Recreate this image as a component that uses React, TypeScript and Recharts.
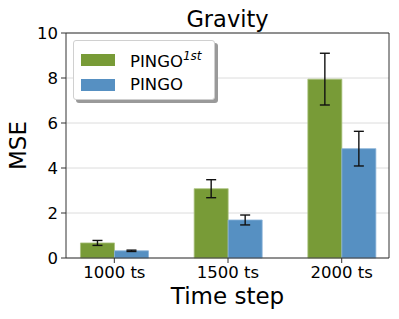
import {
  BarChart,
  Bar,
  XAxis,
  YAxis,
  CartesianGrid,
  ErrorBar,
  Legend,
  ReferenceLine,
} from "recharts";

const categories = ["1000 ts", "1500 ts", "2000 ts"];
const pingo1st = [0.67, 3.08, 7.95];
const pingo1stErr = [0.11, 0.4, 1.15];
const pingo = [0.32, 1.69, 4.86];
const pingoErr = [0.03, 0.22, 0.77];
const yTicks = [0, 2, 4, 6, 8, 10];

const GREEN = "#789b37";
const BLUE = "#5690c2";
const FONT = "'DejaVu Sans', sans-serif";

const data = categories.map((name, i) => ({
  x: i,
  name,
  first: pingo1st[i],
  firstErr: pingo1stErr[i],
  pingo: pingo[i],
  pingoErr: pingoErr[i],
}));

function LegendBox() {
  const row = { display: "flex", alignItems: "center", height: 25 } as const;
  const swatch = (c: string) => ({
    width: 34,
    height: 12,
    background: c,
    marginRight: 15,
  });
  return (
    <div
      style={{
        width: 142,
        height: 60,
        background: "#fff",
        border: "1px solid #d0d0d0",
        borderRadius: 3,
        boxShadow: "3px 3px 0 #9a9a9a",
        padding: "6px 0 0 7px",
        boxSizing: "border-box",
        fontFamily: FONT,
        fontSize: 16.5,
        color: "#000",
      }}
    >
      <div style={row}>
        <div style={swatch(GREEN)} />
        <span>
          PINGO
          <sup style={{ fontSize: 12, fontStyle: "italic", verticalAlign: 7 }}>1st</sup>
        </span>
      </div>
      <div style={row}>
        <div style={swatch(BLUE)} />
        <span>PINGO</span>
      </div>
    </div>
  );
}

export default function App() {
  return (
    <div style={{ margin: -8 }}>
      <BarChart
        width={399}
        height={319}
        data={data}
        margin={{ top: 33, right: 10, bottom: 0, left: 10 }}
        barGap={0}
        style={{ fontFamily: FONT }}
      >
        <CartesianGrid vertical={false} stroke="#dcdcdc" strokeWidth={1} />
        <XAxis
          dataKey="x"
          type="number"
          domain={[-0.425, 2.416]}
          ticks={[0, 1, 2]}
          tickFormatter={(v: number) => categories[v]}
          height={61}
          tickSize={5}
          tickMargin={3}
          stroke="#333"
          tick={{ fill: "#000", fontSize: 16.5 }}
          label={{
            value: "Time step",
            position: "insideBottom",
            offset: 15,
            fill: "#000",
            fontSize: 23,
          }}
        />
        <YAxis
          domain={[0, 10]}
          ticks={yTicks}
          width={56}
          tickSize={5}
          tickMargin={3}
          stroke="#333"
          tick={{ fill: "#000", fontSize: 16.5 }}
          label={{
            value: "MSE",
            angle: -90,
            position: "insideLeft",
            offset: 8,
            fill: "#000",
            fontSize: 23,
            style: { textAnchor: "middle" },
          }}
        />
        <ReferenceLine
          y={10}
          stroke="#333"
          label={{
            value: "Gravity",
            position: "top",
            offset: 6,
            fill: "#000",
            fontSize: 22.5,
          }}
        />
        <ReferenceLine x={2.416} stroke="#333" />
        <Legend
          layout="vertical"
          align="center"
          verticalAlign="middle"
          wrapperStyle={{ left: 73, top: 40, width: 147 }}
          content={() => <LegendBox />}
        />
        <Bar
          dataKey="first"
          fill={GREEN}
          stroke="#a9c27e"
          strokeWidth={0.8}
          barSize={34}
          isAnimationActive={false}
        >
          <ErrorBar dataKey="firstErr" width={5} stroke="#111" strokeWidth={1.4} />
        </Bar>
        <Bar
          dataKey="pingo"
          fill={BLUE}
          stroke="#8ab2d8"
          strokeWidth={0.8}
          barSize={34}
          isAnimationActive={false}
        >
          <ErrorBar dataKey="pingoErr" width={5} stroke="#111" strokeWidth={1.4} />
        </Bar>
      </BarChart>
    </div>
  );
}
